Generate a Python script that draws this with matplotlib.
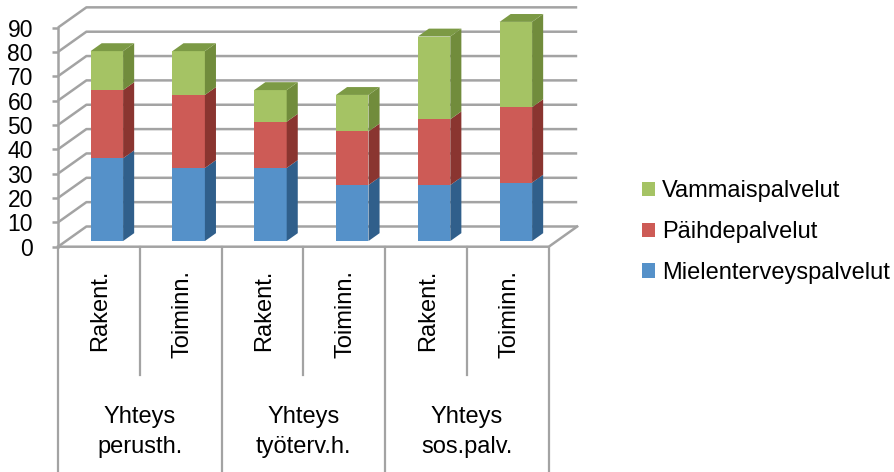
import matplotlib
matplotlib.use("Agg")
import matplotlib.pyplot as plt
from matplotlib.patches import Polygon, Patch

plt.rcParams["font.family"] = ["Liberation Sans", "DejaVu Sans"]

# ---- data -------------------------------------------------------------
bar_labels = ["Rakent.", "Toiminn.", "Rakent.", "Toiminn.", "Rakent.", "Toiminn."]
group_labels = [("Yhteys", "perusth."), ("Yhteys", "työterv.h."), ("Yhteys", "sos.palv.")]
series_names = ["Mielenterveyspalvelut", "Päihdepalvelut", "Vammaispalvelut"]
mielenterveys = [34, 30, 30, 23, 23, 24]
paihde = [28, 30, 19, 22, 27, 31]
vammais = [16, 18, 13, 15, 34, 35]
y_ticks = list(range(0, 91, 10))

# ---- styling ----------------------------------------------------------
front_cols = ["#5591C9", "#CD5B56", "#A5C364"]
side_cols = ["#305F8B", "#8A3530", "#718C3C"]
top_col = "#7C9A45"
grid_col = "#A3A3A3"

W, H, DPI = 895, 472, 100
fig = plt.figure(figsize=(W / DPI, H / DPI), dpi=DPI)
ax = fig.add_axes([0, 0, 1, 1])

# pixel layout of the plot box -> data units
x0_px, slot_px = 58.0, 81.8
y0_px, val_px = 246.7, 2.435
ax.set_xlim(-x0_px / slot_px, (W - x0_px) / slot_px)
ax.set_ylim(-(H - y0_px) / val_px, y0_px / val_px)

def ypx(p):
    return -(p - y0_px) / val_px

n = len(bar_labels)
DX, DY = 28.4 / slot_px, 20.2 / val_px      # depth vector of the 3D box
d_front, d_len = 0.28, 0.39                   # bar position / thickness in depth
bw = 0.397                                    # bar width

# walls: left wall diagonals + back wall gridlines
for v in y_ticks:
    ax.plot([0, DX, n + DX], [v, v + DY, v + DY], color=grid_col, lw=1.8,
            zorder=1, solid_capstyle="butt")
# floor outline
ax.plot([0, n, n + DX], [0, 0, DY], color=grid_col, lw=1.8, zorder=1)

# bars
series = [mielenterveys, paihde, vammais]
bx = [i + 0.5 + d_front * DX for i in range(n)]
base = d_front * DY
bdx, bdy = d_len * DX, d_len * DY
bottoms = [base] * n
for s, vals in enumerate(series):
    ax.bar(bx, vals, width=bw, bottom=bottoms, color=front_cols[s],
           edgecolor="none", zorder=3)
    for i in range(n):
        b = bottoms[i]
        t = b + vals[i]
        xr = bx[i] + bw / 2
        xl = bx[i] - bw / 2
        ax.add_patch(Polygon([(xr, b), (xr + bdx, b + bdy), (xr + bdx, t + bdy), (xr, t)],
                             closed=True, facecolor=side_cols[s], edgecolor="none", zorder=3))
        if s == len(series) - 1:
            ax.add_patch(Polygon([(xl, t), (xr, t), (xr + bdx, t + bdy), (xl + bdx, t + bdy)],
                                 closed=True, facecolor=top_col, edgecolor="none", zorder=3))
    bottoms = [bottoms[i] + vals[i] for i in range(n)]

# value axis on the front edge
for k in ["top", "right", "bottom"]:
    ax.spines[k].set_visible(False)
ax.spines["left"].set_position(("data", 0))
ax.spines["left"].set_bounds(0, 90)
ax.spines["left"].set_color(grid_col)
ax.spines["left"].set_linewidth(1.8)
ax.set_yticks(y_ticks)
ax.set_xticks([])
ax.tick_params(axis="y", direction="out", length=4, width=1.8, color=grid_col,
               pad=14, labelsize=16.5, labelcolor="black")

# category table below the floor
y_bot = ypx(H + 5)
y_mid = ypx(375)
for k in range(0, n + 1, 2):
    ax.plot([k, k], [0, y_bot], color=grid_col, lw=1.6, zorder=1, clip_on=False)
for k in range(1, n, 2):
    ax.plot([k, k], [0, y_mid], color=grid_col, lw=1.6, zorder=1)

for i, lab in enumerate(bar_labels):
    ax.text(i + 0.52, ypx(270), lab, rotation=90, ha="center", va="top",
            fontsize=17, color="black")
for g, (l1, l2) in enumerate(group_labels):
    ax.text(2 * g + 1, ypx(423.3), l1, ha="center", va="baseline", fontsize=17)
    ax.text(2 * g + 1, ypx(453), l2, ha="center", va="baseline", fontsize=17)

# legend (top entry is the top segment)
handles = [Patch(facecolor=front_cols[s], edgecolor="none", label=series_names[s])
           for s in reversed(range(3))]
ax.legend(handles=handles, loc="center left", bbox_to_anchor=(642 / W, 1 - 232 / H),
          bbox_transform=fig.transFigure, frameon=False, fontsize=17,
          handlelength=0.55, handleheight=0.55, handletextpad=0.3,
          labelspacing=0.8, borderpad=0, borderaxespad=0)

fig.savefig("out.png", dpi=DPI)
